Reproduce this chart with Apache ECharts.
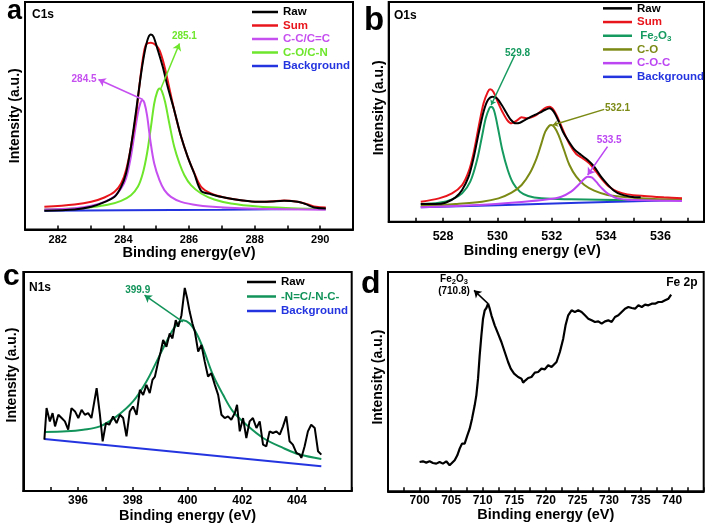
<!DOCTYPE html>
<html><head><meta charset="utf-8">
<script src="https://cdn.jsdelivr.net/npm/echarts@6/dist/echarts.min.js"></script>
<style>html,body{margin:0;padding:0;background:#fff}#c{width:707px;height:524px}</style>
</head><body><div id="c"></div>
<script>
// ---------- DATA (binding energy eV, intensity a.u.) ----------
// Panel a: C1s
const aRaw = [[281.59,56],[282.51,60],[283.02,68],[283.42,82],[283.73,98],[283.93,128],[284.08,168],[284.23,248],[284.39,358],[284.54,468],[284.66,538],[284.76,576],[284.84,585],[284.92,578],[285.05,538],[285.20,488],[285.35,428],[285.55,358],[285.76,278],[285.96,218],[286.16,168],[286.37,116],[286.67,106],[287.08,96],[287.58,88],[288.09,83],[288.50,84],[288.90,86],[289.31,83],[289.56,76],[289.82,66],[290.17,63]];
const aSum = [[281.59,68],[282.51,75],[283.02,83],[283.42,96],[283.73,113],[283.93,138],[284.08,178],[284.23,248],[284.39,348],[284.52,458],[284.62,528],[284.70,556],[284.84,560],[284.99,553],[285.10,538],[285.23,498],[285.37,438],[285.55,358],[285.76,278],[285.96,218],[286.16,170],[286.37,128],[286.67,108],[287.08,96],[287.58,88],[288.09,83],[288.50,84],[288.90,87],[289.31,83],[289.61,76],[289.87,68],[290.17,66]];
const aCC = [[281.59,60],[282.51,64],[283.02,71],[283.42,83],[283.73,100],[283.93,123],[284.08,153],[284.21,208],[284.34,288],[284.44,348],[284.52,380],[284.58,388],[284.64,380],[284.72,343],[284.82,268],[284.94,198],[285.10,148],[285.25,118],[285.45,98],[285.76,83],[286.26,73],[287.08,66],[288.09,62],[290.17,59]];
const aCO = [[281.59,60],[282.51,63],[283.02,67],[283.52,74],[283.93,86],[284.23,103],[284.44,128],[284.59,168],[284.72,228],[284.84,308],[284.94,378],[285.03,413],[285.10,423],[285.17,416],[285.27,383],[285.40,318],[285.55,248],[285.71,198],[285.86,163],[286.06,133],[286.37,108],[286.77,90],[287.28,78],[288.09,69],[289.11,64],[290.17,61]];
const aBg = [[281.59,56],[284.0,57.5],[287.0,59.5],[290.17,62]];
// Panel b: O1s
const bRaw = [[527.18,53],[527.73,53],[528.09,57],[528.46,73],[528.70,95],[528.94,135],[529.12,190],[529.31,265],[529.49,330],[529.65,365],[529.82,375],[529.98,370],[530.16,350],[530.34,325],[530.50,305],[530.67,295],[530.83,297],[531.01,305],[531.19,313],[531.37,320],[531.56,327],[531.74,335],[531.92,340],[532.07,330],[532.23,305],[532.41,270],[532.59,245],[532.83,217],[533.08,200],[533.32,185],[533.56,165],[533.81,135],[534.05,112],[534.29,93],[534.54,82],[534.90,75],[535.27,73]];
const bSum = [[527.18,60],[527.85,70],[528.33,85],[528.70,110],[528.94,150],[529.12,205],[529.31,285],[529.49,355],[529.65,390],[529.73,397],[529.85,390],[530.01,360],[530.18,330],[530.36,305],[530.52,295],[530.71,303],[530.89,313],[531.07,310],[531.25,313],[531.44,320],[531.62,333],[531.80,343],[531.92,345],[532.07,335],[532.23,310],[532.41,275],[532.65,233],[532.90,203],[533.14,190],[533.38,175],[533.63,150],[533.87,125],[534.11,105],[534.42,90],[534.78,82],[535.39,77],[536.12,73],[536.79,70]];
const bFe = [[527.18,53],[527.85,57],[528.33,67],[528.70,85],[529.00,120],[529.25,185],[529.43,255],[529.57,310],[529.70,340],[529.77,345],[529.87,335],[530.01,285],[530.18,215],[530.38,155],[530.58,115],[530.83,90],[531.13,77],[531.62,70],[532.71,67],[534.54,65],[536.79,65]];
const bCO = [[527.18,47],[528.46,53],[529.43,60],[530.04,70],[530.52,87],[530.89,110],[531.19,145],[531.44,190],[531.62,235],[531.76,270],[531.90,287],[531.98,290],[532.10,283],[532.25,260],[532.45,215],[532.65,170],[532.90,135],[533.20,110],[533.56,93],[534.05,80],[534.78,73],[535.75,68],[536.79,67]];
const bCOC = [[527.18,43],[529.06,49],[530.89,59],[531.86,67],[532.35,75],[532.71,90],[532.98,110],[533.18,127],[533.32,135],[533.47,133],[533.63,120],[533.81,103],[534.05,85],[534.42,70],[535.02,65],[536.79,62]];
const bBg = [[527.18,43],[530.0,49.5],[533.0,56.5],[536.79,65]];
// Panel c: N1s
const cRaw = [[394.77,155],[394.85,250],[394.97,210],[395.07,235],[395.16,195],[395.28,230],[395.40,220],[395.52,210],[395.64,185],[395.76,250],[395.89,240],[396.01,220],[396.13,245],[396.25,230],[396.37,235],[396.49,220],[396.68,310],[396.80,230],[396.90,150],[397.02,205],[397.14,200],[397.28,225],[397.41,205],[397.53,230],[397.65,220],[397.77,165],[397.89,240],[398.01,255],[398.14,230],[398.26,305],[398.38,290],[398.50,320],[398.62,295],[398.72,335],[398.81,345],[398.93,390],[399.02,420],[399.11,455],[399.23,435],[399.35,475],[399.45,460],[399.57,515],[399.66,495],[399.78,530],[399.90,612],[399.99,580],[400.08,540],[400.18,505],[400.27,480],[400.39,420],[400.51,440],[400.63,390],[400.75,345],[400.87,355],[401.00,320],[401.12,290],[401.24,230],[401.36,220],[401.48,225],[401.60,215],[401.73,235],[401.81,260],[401.91,180],[402.03,220],[402.15,160],[402.27,210],[402.39,220],[402.52,190],[402.64,210],[402.76,140],[402.88,135],[403.00,180],[403.12,175],[403.25,180],[403.37,170],[403.49,195],[403.61,225],[403.73,150],[403.85,140],[403.98,115],[404.10,110],[404.16,100],[404.28,135],[404.40,180],[404.52,200],[404.65,190],[404.77,120],[404.89,110]];
const cFit = [[394.77,178],[395.58,180],[396.19,185],[396.80,195],[397.41,225],[398.01,270],[398.50,330],[398.87,390],[399.23,450],[399.54,495],[399.84,515],[400.08,505],[400.33,475],[400.57,430],[400.93,350],[401.30,290],[401.66,240],[402.15,200],[402.76,160],[403.49,130],[404.10,110],[404.89,97]];
const cBg = [[394.77,157],[404.89,75]];
// Panel d: Fe 2p
const dRaw = [[700.0,88],[700.53,90],[701.06,86],[701.59,90],[702.12,85],[702.65,83],[703.17,88],[703.70,83],[704.23,90],[704.76,78],[705.03,83],[705.56,93],[705.98,108],[706.35,128],[706.72,143],[707.14,143],[707.57,168],[707.94,188],[708.31,218],[708.73,258],[708.99,288],[709.26,338],[709.52,408],[709.79,468],[710.05,518],[710.32,543],[710.58,550],[710.85,563],[711.11,548],[711.38,528],[711.90,498],[712.43,473],[712.96,448],[713.49,418],[714.02,388],[714.44,368],[714.97,353],[715.61,343],[716.14,338],[716.40,326],[716.77,333],[717.20,340],[717.72,343],[718.25,356],[718.78,358],[719.31,368],[719.84,366],[720.37,378],[720.90,373],[721.16,368],[721.69,388],[722.22,418],[722.75,458],[723.12,498],[723.54,528],[724.07,543],[724.60,538],[725.13,543],[725.66,538],[726.19,528],[726.72,518],[727.25,513],[727.78,508],[728.31,510],[728.84,503],[729.37,510],[729.89,513],[730.42,508],[730.95,523],[731.48,528],[732.01,538],[732.54,548],[733.07,553],[733.60,550],[734.13,548],[734.66,558],[735.19,553],[735.71,560],[736.24,558],[736.77,563],[737.30,563],[737.83,568],[738.36,568],[738.89,573],[739.42,578],[739.84,590]];
// Annotations (label position, arrow start, arrow end) in data units
const aNotes = [{t:'284.5', at:[282.80,450], from:[284.59,390], to:[283.24,450]},
                {t:'285.1', at:[285.86,580], from:[285.13,420], to:[285.71,558]}];
const bNotes = [{t:'529.8', at:[530.74,505], from:[530.64,500], to:[529.77,350]},
                {t:'532.1', at:[534.42,340], from:[533.93,337], to:[532.04,290]},
                {t:'533.5', at:[534.11,245], from:[534.05,225], to:[533.32,140]}];
const cNotes = [{t:'399.9', at:[398.18,605], from:[399.83,510], to:[398.43,590]}];
const dNotes = [{t:'Fe{s|2}O{s|3}\n(710.8)', at:[705.45,617], from:[710.85,563], to:[708.62,603]}];

// ---------- STYLE ----------
const FONT = 'Arial, "Liberation Sans", sans-serif';
const BLACK='#000', RED='#e8161c', BLUE='#2435e0';
const A_PUR='#c64ff0', A_GRN='#6ee62c';
const B_GRN='#169a5f', B_OLV='#7b8a14', B_PUR='#bb46f2';
const C_GRN='#12935a';

function ln(name, data, color, gi, opts) {
  return Object.assign({type:'line', name, data, xAxisIndex:gi, yAxisIndex:gi,
    symbol:'none', showSymbol:false, animation:false, silent:true,
    lineStyle:{color, width:2}, itemStyle:{color}}, opts||{});
}
function notes(list, color, arrowAtEnd, size) {
  return {
    markLine:{silent:true, animation:false, symbol:['none','arrow'], symbolSize:size||7,
      lineStyle:{color, width:1.5, type:'solid'}, label:{show:false},
      data:list.map(n=>[{coord:n.from},{coord:n.to}])},
    markPoint:{silent:true, animation:false, symbol:'circle', symbolSize:1,
      itemStyle:{color:'rgba(0,0,0,0)'},
      data:list.map(n=>({coord:n.at, label:{show:true, position:'inside', formatter:n.t,
        color, fontSize:10, fontWeight:'bold', fontFamily:FONT, lineHeight:12,
        rich:{s:{fontSize:7.5, fontWeight:'bold', fontFamily:FONT, color, verticalAlign:'bottom', lineHeight:8}}}}))}
  };
}
function xAx(gi, min, max, interval, lblFn, name, gap, lsize, lmargin, pad) {
  return {type:'value', gridIndex:gi, min, max, interval,
    axisLine:{show:true, onZero:false, lineStyle:{color:'#000', width:2}},
    axisTick:{show:true, inside:true, length:4, lineStyle:{color:'#000', width:1.5}},
    axisLabel:{show:true, formatter:v=>lblFn(v)?String(v):'', fontSize:lsize, fontWeight:'bold', color:'#000', fontFamily:FONT, margin:lmargin},
    splitLine:{show:false},
    name, nameLocation:'middle', nameGap:gap,
    nameTextStyle:{fontSize:14.5, fontWeight:'bold', color:'#000', fontFamily:FONT, padding:pad||0}};
}
function yAx(gi, max, gap, pad) {
  return {type:'value', gridIndex:gi, min:0, max,
    axisLine:{show:true, onZero:false, lineStyle:{color:'#000', width:2}},
    axisTick:{show:false}, axisLabel:{show:false}, splitLine:{show:false},
    name:'Intensity (a.u.)', nameLocation:'middle', nameGap:gap,
    nameTextStyle:{fontSize:14, fontWeight:'bold', color:'#000', fontFamily:FONT, padding:pad||0}};
}
function lg(left, top, rowH, itemW, items) {
  return {orient:'vertical', left, top, padding:0, itemGap:0, itemWidth:itemW, itemHeight:2.5,
    icon:'rect', selectedMode:false,
    textStyle:{fontSize:11.5, fontWeight:'bold', fontFamily:FONT, lineHeight:rowH,
      rich:{sub:{fontSize:8, fontWeight:'bold', fontFamily:FONT, verticalAlign:'bottom', lineHeight:9}}},
    formatter:n=>{const t=n.slice(2); return t==='Fe2O3' ? ' Fe{sub|2}O{sub|3}' : t;},
    data:items.map(([name,color])=>({name, icon:'rect', itemStyle:{color}, textStyle:{color}}))};
}
const gridBox = {show:true, borderColor:'#000', borderWidth:2, backgroundColor:'transparent'};

const option = {
  animation:false,
  grid:[
    Object.assign({left:25, top:2, width:328, height:227.5}, gridBox),
    Object.assign({left:388.7, top:2, width:315.3, height:219.7}, gridBox),
    Object.assign({left:23.3, top:272, width:328.4, height:220}, gridBox),
    Object.assign({left:388, top:272, width:315.7, height:219.3}, gridBox)
  ],
  xAxis:[
    xAx(0, 281, 291, 1, v=>v%2===0&&v>=282&&v<=290, 'Binding energy(eV)', 15, 11, 4.5),
    xAx(1, 526, 537.6, 1, v=>v%2===0&&v>=528&&v<=536, 'Binding energy (eV)', 21, 12.5, 8, [0,28,0,0]),
    xAx(2, 394, 406, 1, v=>v%2===0&&v>=396&&v<=404, 'Binding energy (eV)', 16, 12, 4),
    xAx(3, 695, 745, 2.5, v=>v%5===0&&v>=700&&v<=740, 'Binding energy (eV)', 15, 12, 3.5)
  ],
  yAxis:[ yAx(0, 682.5, 3), yAx(1, 659, 3, [0,0,0,8]), yAx(2, 660, 4.5, [0,0,0,13]), yAx(3, 658, 2.5, [0,0,0,9]) ],
  legend:[
    lg(252, 5.25, 13.5, 26, [['a:Raw',BLACK],['a:Sum',RED],['a:C-C/C=C',A_PUR],['a:C-O/C-N',A_GRN],['a:Background',BLUE]]),
    lg(603, 1.5, 13.7, 29, [['b:Raw',BLACK],['b:Sum',RED],['b:Fe2O3',B_GRN],['b:C-O',B_OLV],['b:C-O-C',B_PUR],['b:Background',BLUE]]),
    lg(247, 274.75, 14.5, 29, [['c:Raw',BLACK],['c:-N=C/-N-C-',C_GRN],['c:Background',BLUE]])
  ],
  series:[
    ln('a:Background', aBg, BLUE, 0),
    ln('a:C-O/C-N', aCO, A_GRN, 0, Object.assign({smooth:0.35}, notes(aNotes.slice(1), A_GRN))),
    ln('a:C-C/C=C', aCC, A_PUR, 0, Object.assign({smooth:0.35}, notes(aNotes.slice(0,1), A_PUR))),
    ln('a:Sum', aSum, RED, 0, {smooth:0.35}),
    ln('a:Raw', aRaw, BLACK, 0, {smooth:0.3}),

    ln('b:Background', bBg, BLUE, 1),
    ln('b:Fe2O3', bFe, B_GRN, 1, Object.assign({smooth:0.35}, notes(bNotes.slice(0,1), B_GRN, true, 5))),
    ln('b:C-O', bCO, B_OLV, 1, Object.assign({smooth:0.35}, notes(bNotes.slice(1,2), B_OLV, true, 5))),
    ln('b:C-O-C', bCOC, B_PUR, 1, Object.assign({smooth:0.35}, notes(bNotes.slice(2), B_PUR, true, 7))),
    ln('b:Sum', bSum, RED, 1, {smooth:0.3}),
    ln('b:Raw', bRaw, BLACK, 1, {smooth:0.3}),

    ln('c:Background', cBg, BLUE, 2),
    ln('c:-N=C/-N-C-', cFit, C_GRN, 2, Object.assign({smooth:0.35}, notes(cNotes, C_GRN))),
    ln('c:Raw', cRaw, BLACK, 2),

    ln('d:Raw', dRaw, BLACK, 3, Object.assign({lineStyle:{color:BLACK, width:2.2}}, notes(dNotes, BLACK)))
  ],
  graphic:[
    {type:'text', x:7, y:11.5, style:{text:'a', fontSize:27, fontWeight:'bold', fontFamily:FONT, fill:'#000', align:'left', verticalAlign:'middle'}},
    {type:'text', x:364, y:20.5, style:{text:'b', fontSize:33, fontWeight:'bold', fontFamily:FONT, fill:'#000', align:'left', verticalAlign:'middle'}},
    {type:'text', x:3, y:277, style:{text:'c', fontSize:30, fontWeight:'bold', fontFamily:FONT, fill:'#000', align:'left', verticalAlign:'middle'}},
    {type:'text', x:361, y:284, style:{text:'d', fontSize:32, fontWeight:'bold', fontFamily:FONT, fill:'#000', align:'left', verticalAlign:'middle'}},
    {type:'text', x:32, y:15, style:{text:'C1s', fontSize:12, fontWeight:'bold', fontFamily:FONT, fill:'#000', align:'left', verticalAlign:'middle'}},
    {type:'text', x:394, y:15.5, style:{text:'O1s', fontSize:12, fontWeight:'bold', fontFamily:FONT, fill:'#000', align:'left', verticalAlign:'middle'}},
    {type:'text', x:29, y:287.5, style:{text:'N1s', fontSize:12, fontWeight:'bold', fontFamily:FONT, fill:'#000', align:'left', verticalAlign:'middle'}},
    {type:'text', x:697.5, y:282.5, style:{text:'Fe 2p', fontSize:12, fontWeight:'bold', fontFamily:FONT, fill:'#000', align:'right', verticalAlign:'middle'}}
  ]
};
const chart = echarts.init(document.getElementById('c'), null, {renderer:'canvas'});
chart.setOption(option);
</script>
</body></html>
